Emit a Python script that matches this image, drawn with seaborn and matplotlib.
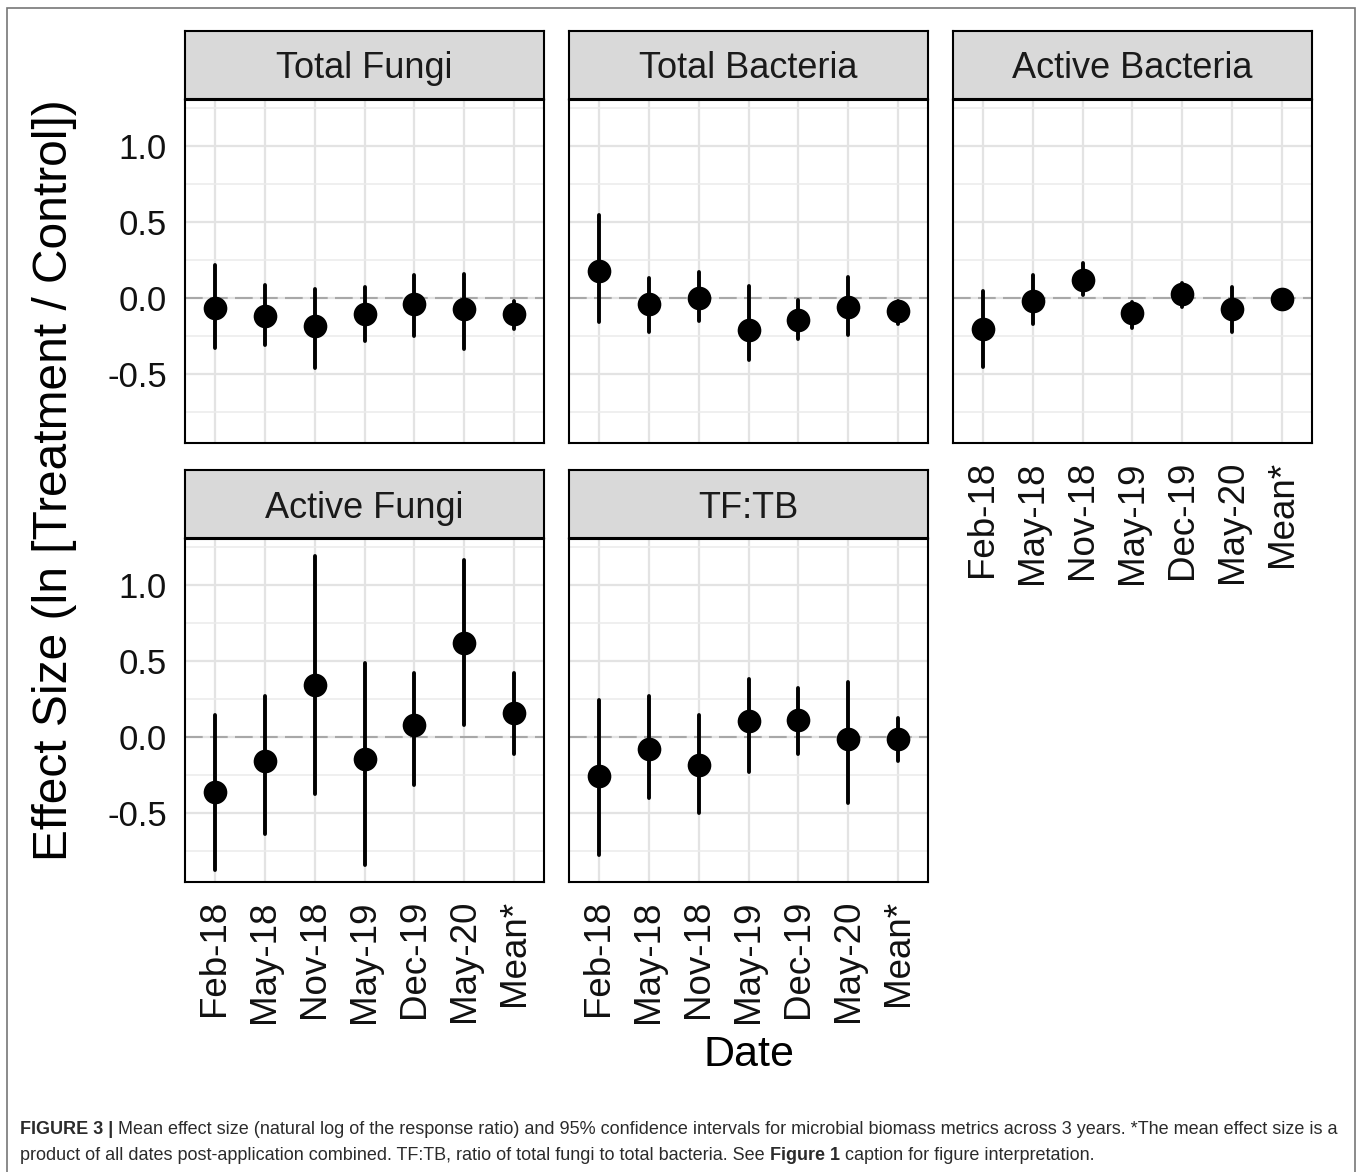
import numpy as np
import pandas as pd
import seaborn as sns
import matplotlib.pyplot as plt
from matplotlib.patches import Rectangle
from matplotlib.ticker import FixedLocator

# categories
dates = ["Feb-18", "May-18", "Nov-18", "May-19", "Dec-19", "May-20", "Mean*"]
panels = ["Total Fungi", "Total Bacteria", "Active Bacteria", "Active Fungi", "TF:TB"]

# mean effect size and 95% CI per panel
tf_mean = [-0.066, -0.12, -0.186, -0.105, -0.037, -0.072, -0.103]
tf_lo = [-0.325, -0.31, -0.46, -0.285, -0.25, -0.333, -0.20]
tf_hi = [0.22, 0.083, 0.06, 0.07, 0.15, 0.16, -0.02]

tb_mean = [0.18, -0.04, 0.0, -0.21, -0.145, -0.06, -0.083]
tb_lo = [-0.158, -0.22, -0.15, -0.41, -0.27, -0.245, -0.167]
tb_hi = [0.545, 0.13, 0.17, 0.08, -0.01, 0.14, -0.02]

ab_mean = [-0.20, -0.018, 0.118, -0.096, 0.024, -0.07, -0.005]
ab_lo = [-0.45, -0.167, 0.02, -0.195, -0.057, -0.226, -0.04]
ab_hi = [0.046, 0.15, 0.23, -0.025, 0.10, 0.075, 0.035]

af_mean = [-0.36, -0.16, 0.341, -0.143, 0.077, 0.619, 0.156]
af_lo = [-0.872, -0.64, -0.374, -0.844, -0.315, 0.081, -0.108]
af_hi = [0.143, 0.27, 1.194, 0.487, 0.423, 1.167, 0.423]

ratio_mean = [-0.255, -0.077, -0.183, 0.108, 0.11, -0.011, -0.011]
ratio_lo = [-0.778, -0.403, -0.496, -0.227, -0.11, -0.43, -0.16]
ratio_hi = [0.242, 0.269, 0.148, 0.385, 0.324, 0.361, 0.125]

series = {
    "Total Fungi": (tf_lo, tf_mean, tf_hi),
    "Total Bacteria": (tb_lo, tb_mean, tb_hi),
    "Active Bacteria": (ab_lo, ab_mean, ab_hi),
    "Active Fungi": (af_lo, af_mean, af_hi),
    "TF:TB": (ratio_lo, ratio_mean, ratio_hi),
}

# long table: lo / mean / hi rows so median = mean and full range = CI
rows = []
for p, (lo, mid, hi) in series.items():
    for d, a, b, c in zip(dates, lo, mid, hi):
        for v in (a, b, c):
            rows.append({"panel": p, "date": d, "value": v})
df = pd.DataFrame(rows)

sns.set_style("white")
plt.rcParams["font.family"] = ["Liberation Sans", "DejaVu Sans"]
plt.rcParams["axes.unicode_minus"] = False

W, H = 1358, 1172
fig = plt.figure(figsize=(W / 100, H / 100), dpi=100)

col_left = [185, 569, 953]
pw = 359
row_top = [100, 539]
ph = 343
strip_h = 68

layout = {
    "Total Fungi": (0, 0, True, False),
    "Total Bacteria": (0, 1, False, False),
    "Active Bacteria": (0, 2, False, True),
    "Active Fungi": (1, 0, True, True),
    "TF:TB": (1, 1, False, True),
}

for p in panels:
    r, c, show_y, show_x = layout[p]
    x0, y0 = col_left[c], row_top[r]
    ax = fig.add_axes([x0 / W, 1 - (y0 + ph) / H, pw / W, ph / H])
    ax.axhline(0, color="#a8a8a8", lw=1.5, dashes=(8.5, 3.5), zorder=1)
    sns.pointplot(data=df[df.panel == p], x="date", y="value", order=dates,
                  estimator="median", errorbar=("pi", 100), color="black",
                  linestyle="none", markers="o", markersize=15,
                  err_kws={"linewidth": 2.8}, ax=ax, zorder=3)
    ax.set_xlim(-0.6, 6.6)
    ax.set_ylim(-0.9525, 1.3025)
    ax.yaxis.set_major_locator(FixedLocator([-0.5, 0.0, 0.5, 1.0]))
    ax.yaxis.set_minor_locator(FixedLocator([-0.75, -0.25, 0.25, 0.75, 1.25]))
    ax.set_axisbelow(True)
    ax.grid(True, which="major", color="#e3e3e3", lw=1.6)
    ax.grid(True, which="minor", axis="y", color="#ebebeb", lw=1.1)
    ax.tick_params(which="minor", length=0)
    ax.tick_params(which="major", length=8, width=1.4, color="black",
                   labelsize=25, labelcolor="#111111", pad=5)
    ax.set_xlabel("")
    ax.set_ylabel("")
    if show_y:
        ax.set_yticklabels(["-0.5", "0.0", "0.5", "1.0"])
    else:
        ax.tick_params(axis="y", left=False, labelleft=False)
    if show_x:
        ax.set_xticks(range(len(dates)))
        ax.set_xticklabels(dates, rotation=90, fontsize=26.5)
    else:
        ax.tick_params(axis="x", bottom=False, labelbottom=False)
    for s in ax.spines.values():
        s.set_visible(True)
        s.set_color("black")
        s.set_linewidth(1.5)

    # facet strip
    sax = fig.add_axes([x0 / W, 1 - (y0 - 1) / H, pw / W, strip_h / H])
    sax.set_facecolor("#d9d9d9")
    sax.set_xticks([])
    sax.set_yticks([])
    for s in sax.spines.values():
        s.set_visible(True)
        s.set_color("black")
        s.set_linewidth(1.5)
    sax.text(0.5, 0.5, p, ha="center", va="center_baseline", fontsize=26,
             color="#1a1a1a", transform=sax.transAxes)

fig.text(55 / W, 1 - 480 / H, "Effect Size (ln [Treatment / Control])",
         rotation=90, ha="center", va="center", fontsize=34.5, color="black")
fig.text(749 / W, 1 - 1055 / H, "Date", ha="center", va="center",
         fontsize=31, color="black")

# outer frame (open at the bottom)
fig.patches.append(Rectangle((7 / W, -0.05), 1348 / W, 1.05 - 8 / H,
                             transform=fig.transFigure, fill=False,
                             edgecolor="#777777", lw=1.2))

# caption with bold pieces
renderer = fig.canvas.get_renderer()
cap_size = 13.0
cap_color = "#2b2b2b"


def caption_line(parts, y):
    x = 20 / W
    for txt, bold in parts:
        t = fig.text(x, y, txt, ha="left", va="center", fontsize=cap_size,
                     color=cap_color, fontweight="bold" if bold else "normal")
        bb = t.get_window_extent(renderer=renderer)
        x += bb.width / W


caption_line([("FIGURE 3 | ", True),
              ("Mean effect size (natural log of the response ratio) and 95% confidence "
               "intervals for microbial biomass metrics across 3 years. *The mean effect size is a", False)],
             1 - 1130 / H)
caption_line([("product of all dates post-application combined. TF:TB, ratio of total fungi "
               "to total bacteria. See ", False), ("Figure 1", True),
              (" caption for figure interpretation.", False)], 1 - 1155 / H)

fig.savefig("out.png", dpi=100)
